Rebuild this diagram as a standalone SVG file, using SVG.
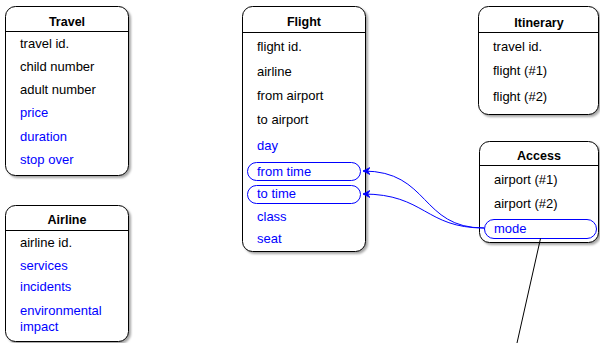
<svg xmlns="http://www.w3.org/2000/svg" width="600" height="343" viewBox="0 0 600 343">
<style>
.box{fill:#fff;stroke:#000;stroke-width:1;filter:url(#sh)}
.hdr{stroke:#000;stroke-width:1}
text{font-family:"Liberation Sans",Arial,sans-serif;font-size:13px;fill:#000}
.t{font-weight:bold;text-anchor:middle;font-size:12.5px}
.b{fill:#0000ff}
.pill{fill:none;stroke:#0000ff;stroke-width:1}
.lnk{fill:none;stroke:#0000ff;stroke-width:1}
</style>
<defs>
<filter id="sh" x="-10%" y="-10%" width="130%" height="130%">
<feDropShadow dx="2" dy="2" stdDeviation="0.8" flood-color="#000" flood-opacity="0.35"/>
</filter>
<marker id="ar" markerWidth="9" markerHeight="9" refX="7" refY="4" orient="auto" markerUnits="userSpaceOnUse">
<path d="M0,0.5 L7,4 L0,7.5 L2.5,4 Z" fill="#0000ff" stroke="#0000ff" stroke-width="0.8"/>
</marker>
</defs>
<g id="travel">
<rect class="box" x="5.5" y="6.5" width="123" height="169" rx="10"/>
<line class="hdr" x1="5.5" y1="31.5" x2="128.5" y2="31.5"/>
<text class="t" x="67" y="26">Travel</text>
<text x="20" y="48">travel id.</text>
<text x="20" y="71">child number</text>
<text x="20" y="94">adult number</text>
<text class="b" x="20" y="117">price</text>
<text class="b" x="20" y="141">duration</text>
<text class="b" x="20" y="164">stop over</text>
</g>
<g id="airline">
<rect class="box" x="5.5" y="205.5" width="123" height="136" rx="10"/>
<line class="hdr" x1="5.5" y1="230.5" x2="128.5" y2="230.5"/>
<text class="t" x="67" y="224">Airline</text>
<text x="20" y="247">airline id.</text>
<text class="b" x="20" y="270">services</text>
<text class="b" x="20" y="291">incidents</text>
<text class="b" x="20" y="315">environmental</text>
<text class="b" x="20" y="331">impact</text>
</g>
<g id="flight">
<rect class="box" x="242.5" y="6.5" width="123" height="245" rx="10"/>
<line class="hdr" x1="242.5" y1="32.5" x2="365.5" y2="32.5"/>
<text class="t" x="304" y="26">Flight</text>
<text x="257" y="51">flight id.</text>
<text x="257" y="76">airline</text>
<text x="257" y="100">from airport</text>
<text x="257" y="124">to airport</text>
<text class="b" x="257" y="150">day</text>
<rect class="pill" x="247.5" y="162.5" width="113" height="18" rx="9"/>
<text class="b" x="257" y="176">from time</text>
<rect class="pill" x="247.5" y="185.5" width="113" height="18" rx="9"/>
<text class="b" x="257" y="198">to time</text>
<text class="b" x="257" y="221">class</text>
<text class="b" x="257" y="243">seat</text>
</g>
<g id="itinerary">
<rect class="box" x="478.5" y="6.5" width="120" height="108" rx="10"/>
<line class="hdr" x1="478.5" y1="32.5" x2="598.5" y2="32.5"/>
<text class="t" x="539" y="27">Itinerary</text>
<text x="493" y="51">travel id.</text>
<text x="493" y="75">flight (#1)</text>
<text x="493" y="101">flight (#2)</text>
</g>
<g id="access">
<rect class="box" x="479.5" y="141.5" width="119" height="101" rx="10"/>
<line class="hdr" x1="479.5" y1="165.5" x2="598.5" y2="165.5"/>
<text class="t" x="539" y="160">Access</text>
<text x="494" y="184">airport (#1)</text>
<text x="494" y="208">airport (#2)</text>
<rect class="pill" x="484.5" y="219.5" width="112" height="19" rx="9.5"/>
<text class="b" x="494" y="233">mode</text>
</g>
<g id="connectors">
<path class="lnk" d="M484,228 C420,228 430,171 363,171" marker-end="url(#ar)"/>
<path class="lnk" d="M484,228 C425,228 425,194 363,194" marker-end="url(#ar)"/>
<line x1="540.5" y1="238.5" x2="517" y2="343" stroke="#000" stroke-width="1"/>
</g>
</svg>
